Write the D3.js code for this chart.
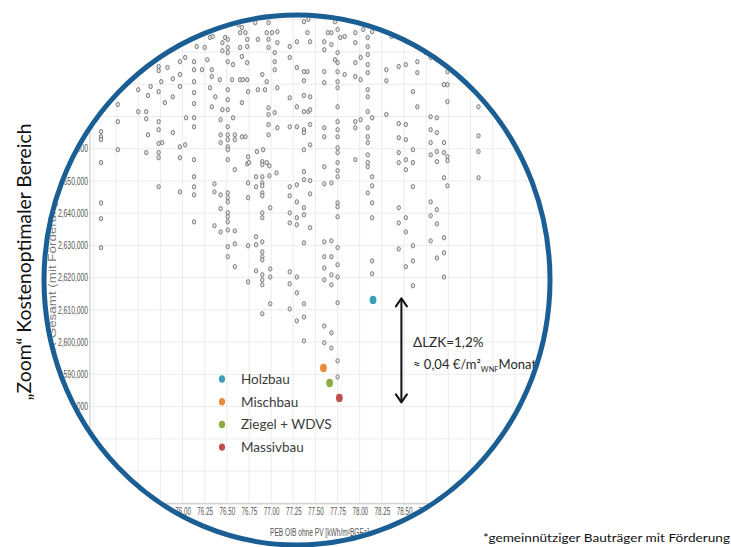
<!DOCTYPE html>
<html>
<head>
<meta charset="utf-8">
<script src="https://cdn.jsdelivr.net/npm/d3@7"></script>
<style>
  html, body { margin: 0; padding: 0; background: #fff; }
  svg { display: block; }
</style>
</head>
<body>
<svg id="chart" width="731" height="547"></svg>
<script>
// Building variants: primary energy demand (PEB) per column and life-cycle cost (LZK) of each variant
const variantPEB = [
  75.08, 75.27, 75.50, 75.59, 75.61, 75.64, 75.73, 75.76, 75.77, 75.80, 75.83, 75.89, 75.97,
  76.03, 76.04, 76.13, 76.16, 76.22, 76.25, 76.28, 76.31, 76.33, 76.34, 76.36, 76.37, 76.42,
  76.43, 76.45, 76.48, 76.51, 76.56, 76.57, 76.59, 76.63, 76.65, 76.67, 76.68, 76.71, 76.73,
  76.74, 76.75, 76.82, 76.83, 76.84, 76.85, 76.90, 76.91, 76.93, 76.95, 76.97, 76.98, 76.99,
  77.01, 77.04, 77.06, 77.07, 77.21, 77.29, 77.37, 77.41, 77.42, 77.44, 77.60, 77.64, 77.68,
  77.72, 77.75, 77.78, 77.83, 77.95, 78.01, 78.04, 78.09, 78.14, 78.30, 78.36, 78.44, 78.52,
  78.60, 78.65, 78.74, 78.80, 78.87, 78.95, 78.99, 79.34
];
const variantLZK = [
  [2665300, 2663700, 2662800, 2655700, 2643200, 2638300, 2629300],
  [2673700, 2668400, 2659700],
  [2678300, 2671500],
  [2671500, 2669300, 2658800],
  [2676500, 2664300],
  [2679300],
  [2685500, 2684200, 2677700, 2668400, 2665900, 2661600, 2658800, 2657200, 2648200],
  [2680800],
  [2661900],
  [2674300],
  [2685200],
  [2681700, 2676100, 2665000],
  [2687000, 2683000, 2679300, 2660600, 2657200, 2646600],
  [2688300, 2661200],
  [2669600],
  [2687000, 2684500, 2680800, 2677400, 2674000, 2669600, 2666800, 2656600, 2651300, 2648200, 2645700, 2637300],
  [2691700],
  [2684500],
  [2691400],
  [2687600],
  [2694500, 2678900],
  [2684500, 2682400, 2673000],
  [2694800],
  [2649100, 2646600, 2636100],
  [2676100],
  [2681400],
  [2669000, 2664300, 2661900, 2645700, 2641400, 2634200],
  [2692900, 2690400, 2672100],
  [2694500],
  [2693900, 2691400, 2689800, 2687000, 2678300, 2675200, 2672100, 2666800, 2664300, 2662800, 2660600,
   2659700, 2656600, 2646300, 2644800, 2643500, 2640100, 2638900, 2637300, 2634800, 2629600, 2626500],
  [2681400],
  [2686100, 2669600],
  [2664300, 2662800, 2653500, 2634500, 2630500, 2623400],
  [2698500],
  [2696000, 2691400, 2681400],
  [2697600, 2688600, 2674300, 2663700],
  [2681400],
  [2696000, 2663700],
  [2693900, 2691700, 2686700, 2681400, 2655300],
  [2677700, 2657500, 2649400, 2644800, 2629900, 2618700],
  [2655700],
  [2699100],
  [2651300, 2648200, 2632700, 2630200, 2622100],
  [2659100],
  [2693900, 2678300],
  [2683000, 2656000, 2655000, 2651300, 2649400, 2648500, 2646300, 2645400, 2640100, 2638600, 2631100,
   2628000, 2626500, 2625500, 2620900, 2619300, 2617800, 2608800],
  [2659700],
  [2678300],
  [2696000, 2680800, 2655700],
  [2699100, 2693900, 2691400, 2672700, 2670600, 2667500, 2664300],
  [2654700, 2651600],
  [2641700, 2622700, 2620200, 2611900],
  [2696000],
  [2689800, 2687000, 2684500, 2671200],
  [2652500],
  [2696300, 2692900, 2678900, 2666500],
  [2691700, 2688300, 2675800, 2666800, 2648200, 2645400, 2640100, 2637000, 2621800, 2618100, 2610300],
  [2693200, 2685200, 2673000, 2666800, 2648800, 2643500, 2638600, 2636400, 2620200, 2615300, 2606600],
  [2699400, 2683900, 2681100, 2676500, 2671500, 2665900, 2665000, 2659700, 2652900, 2650400, 2641700,
   2639500, 2630800, 2611900, 2607800, 2600400],
  [2696000, 2683900],
  [2700100, 2671500],
  [2693200, 2676100, 2672100, 2667500, 2661200, 2650100, 2646000, 2635500],
  [2693200, 2690700, 2683900, 2680500, 2666500, 2663700, 2654400, 2649100, 2631100, 2626500, 2623000,
   2619300, 2605000, 2599800],
  [2696000],
  [2696000, 2692300, 2649400, 2631400, 2626500, 2620900, 2617800, 2602900, 2598200],
  [2699400, 2687600],
  [2697000, 2689800, 2686700, 2683900, 2680800, 2678900, 2673000, 2668400, 2665900, 2663700, 2660300,
   2658800, 2655700, 2653200, 2651300, 2643200, 2642000, 2638900, 2629300, 2624000, 2620200, 2612200,
   2594200, 2589200],
  [2694500],
  [2694800, 2683000],
  [2696000, 2692900, 2686700, 2682400, 2668400, 2666500, 2656600],
  [2688300, 2681400, 2669000],
  [2697000],
  [2694500, 2691700, 2689200, 2686100, 2683600, 2678300, 2676100, 2671500, 2666500, 2663700, 2661900,
   2658100, 2655700, 2654400, 2646300],
  [2696300, 2669600, 2651300, 2648500, 2643200, 2638600, 2625200, 2621200],
  [2684500, 2681100, 2670600],
  [2694800],
  [2685500, 2667800, 2663400, 2658800, 2655700, 2641700, 2637000, 2628900],
  [2686100, 2667500, 2662800, 2656600, 2653500, 2638600, 2634200, 2623400],
  [2677700, 2659700, 2655700, 2648200, 2629900, 2625200, 2617500],
  [2687000, 2683600, 2673000],
  [2689800],
  [2688300, 2669900, 2665900, 2661900, 2658100, 2643500, 2639200, 2631400],
  [2687600, 2669600, 2665000, 2659100, 2656000, 2641100, 2636700, 2626100],
  [2679900, 2661900, 2658800, 2651000, 2632400, 2627700, 2620200],
  [2683900, 2679900, 2674600, 2657500, 2656300, 2648500],
  [2676800, 2673000, 2664000, 2659100, 2651000]
];

// Highlighted construction types
const typeNames  = ["Holzbau", "Mischbau", "Ziegel + WDVS", "Massivbau"];
const typeColors = ["#3a9fb9", "#e98a3b", "#8bad40", "#c0504d"];
const typePEB    = [78.15, 77.59, 77.66, 77.77];
const typeLZK    = [2613100, 2592000, 2587300, 2582700];

// Axis ticks
const xTicks = d3.range(0, 22).map(i => 75 + i * 0.25);
const yTicks = d3.range(0, 16).map(i => 2550000 + i * 10000);

// Spread annotation
const spreadLabel = "ΔLZK=1,2%";
const spreadPEB = 78.47;

const svg = d3.select("#chart");
const lens = { cx: 297, cy: 280, rx: 253, ry: 265 };
const lensInner = { rx: lens.rx - 2.5, ry: lens.ry - 2.5 };
const insideLens = (px, py) =>
  ((px - lens.cx) / lensInner.rx) ** 2 + ((py - lens.cy) / lensInner.ry) ** 2 <= 1;

const x = d3.scaleLinear().domain([74.95, 80.26]).range([89.5, 560]);
const y = d3.scaleLinear().domain([2550000, 2703000]).range([503.3, 10.1]);

const defs = svg.append("defs");
defs.append("clipPath").attr("id", "lens")
  .append("ellipse")
  .attr("cx", lens.cx).attr("cy", lens.cy)
  .attr("rx", lensInner.rx).attr("ry", lensInner.ry);

const plot = svg.append("g").attr("clip-path", "url(#lens)");

// grid
plot.append("g").selectAll("line").data(xTicks).join("line")
  .attr("x1", d => x(d)).attr("x2", d => x(d))
  .attr("y1", y.range()[1]).attr("y2", y.range()[0])
  .attr("stroke", "#ececec").attr("stroke-width", 1);
plot.append("g").selectAll("line").data(yTicks).join("line")
  .attr("x1", x.range()[0]).attr("x2", x.range()[1])
  .attr("y1", d => y(d)).attr("y2", d => y(d))
  .attr("stroke", "#ececec").attr("stroke-width", 1);

// axes (condensed tick font)
const tickFont = "'Liberation Sans', Arial, sans-serif";
const xAxis = plot.append("g")
  .attr("transform", `translate(0,${y.range()[0]})`)
  .call(d3.axisBottom(x).tickValues(xTicks).tickSize(0).tickPadding(5).tickFormat(d3.format(".2f")));
xAxis.select(".domain").attr("stroke", "#c4c4c4");
xAxis.selectAll("text")
  .attr("font-family", tickFont).attr("font-size", 10).attr("fill", "#555")
  .attr("transform", "scale(0.63,1)");

const yAxis = plot.append("g")
  .attr("transform", `translate(${x.range()[0]},0)`)
  .call(d3.axisLeft(y).tickValues(yTicks).tickSize(0).tickPadding(2).tickFormat(d3.format(",")));
yAxis.select(".domain").attr("stroke", "#c4c4c4");
yAxis.selectAll("text")
  .attr("font-family", tickFont).attr("font-size", 10).attr("fill", "#555")
  .attr("transform", "scale(0.68,1)");

// tick labels lying completely outside the lens are dropped
plot.selectAll(".tick text").each(function () {
  const b = this.getBoundingClientRect();
  const corners = [[b.left, b.top], [b.right, b.top], [b.left, b.bottom], [b.right, b.bottom]];
  if (!corners.some(([cx, cy]) => insideLens(cx, cy))) d3.select(this).remove();
});

// axis titles
plot.append("text")
  .attr("transform", "translate(270,536) scale(0.66,1)")
  .attr("font-family", tickFont).attr("font-size", 10).attr("fill", "#555")
  .text("PEB OIB ohne PV [kWh/m²BGFa]");
plot.append("text")
  .attr("transform", "translate(56,281) rotate(-90)")
  .attr("text-anchor", "middle")
  .attr("font-family", tickFont).attr("font-size", 11).attr("fill", "#7a7a7a")
  .attr("textLength", 171).attr("lengthAdjust", "spacingAndGlyphs")
  .text("LZK Gesamt (mit Förderung)");

// variant points
const variants = variantPEB.flatMap((p, i) => variantLZK[i].map(v => ({ p, v })));
plot.append("g").selectAll("ellipse").data(variants).join("ellipse")
  .attr("cx", d => x(d.p)).attr("cy", d => y(d.v))
  .attr("rx", 1.7).attr("ry", 2.2)
  .attr("fill", "#e4e4e4").attr("stroke", "#6c6c6c").attr("stroke-width", 0.85);

// construction types
plot.append("g").selectAll("ellipse").data(typeNames).join("ellipse")
  .attr("cx", (d, i) => x(typePEB[i])).attr("cy", (d, i) => y(typeLZK[i]))
  .attr("rx", 3.4).attr("ry", 4.2)
  .attr("fill", (d, i) => typeColors[i]);

// legend
const labelFont = "Lato, 'Open Sans', sans-serif";
const legend = plot.append("g").attr("transform", "translate(222,379)");
const li = legend.selectAll("g").data(typeNames).join("g")
  .attr("transform", (d, i) => `translate(0,${i * 22.7})`);
li.append("ellipse").attr("rx", 3.1).attr("ry", 3.7).attr("fill", (d, i) => typeColors[i]);
li.append("text").attr("x", 19).attr("y", 5)
  .attr("font-family", labelFont).attr("font-size", 13.5).attr("fill", "#3c3c3c")
  .text(d => d);

// spread arrow between best and worst construction type
const ax = x(spreadPEB);
const yTop = y(typeLZK[0]) - 1.5;
const yBot = y(typeLZK[3]) + 4.5;
const arrow = plot.append("g").attr("stroke", "#111").attr("fill", "none")
  .attr("stroke-width", 2).attr("stroke-linecap", "round").attr("stroke-linejoin", "round");
arrow.append("line").attr("x1", ax).attr("x2", ax).attr("y1", yTop + 1).attr("y2", yBot - 1);
arrow.append("path").attr("d", `M${ax - 5.5},${yTop + 8} L${ax},${yTop} L${ax + 5.5},${yTop + 8}`);
arrow.append("path").attr("d", `M${ax - 5.5},${yBot - 8} L${ax},${yBot} L${ax + 5.5},${yBot - 8}`);

svg.append("text").attr("x", 413).attr("y", 347)
  .attr("font-family", labelFont).attr("font-size", 13.5).attr("fill", "#2a2a2a")
  .text(spreadLabel);
const t2 = svg.append("text").attr("x", 413).attr("y", 369)
  .attr("font-family", labelFont).attr("font-size", 13).attr("fill", "#2a2a2a");
t2.append("tspan").text("≈ 0,04 €/m²");
t2.append("tspan").attr("font-size", 7.5).attr("dy", 3).text("WNF");
t2.append("tspan").attr("dy", -3).text("Monat");

// lens outline
svg.append("ellipse")
  .attr("cx", lens.cx).attr("cy", lens.cy).attr("rx", lens.rx).attr("ry", lens.ry)
  .attr("fill", "none").attr("stroke", "#1b5e93").attr("stroke-width", 5);

// outer title
svg.append("text")
  .attr("transform", "translate(31,262) rotate(-90)")
  .attr("text-anchor", "middle")
  .attr("font-family", labelFont).attr("font-size", 20).attr("fill", "#111")
  .attr("textLength", 277).attr("lengthAdjust", "spacingAndGlyphs")
  .text("„Zoom“ Kostenoptimaler Bereich");

// footnote
svg.append("text")
  .attr("x", 483).attr("y", 542)
  .attr("font-family", labelFont).attr("font-size", 12).attr("fill", "#111")
  .attr("textLength", 247).attr("lengthAdjust", "spacingAndGlyphs")
  .text("*gemeinnütziger Bauträger mit Förderung");
</script>
</body>
</html>
